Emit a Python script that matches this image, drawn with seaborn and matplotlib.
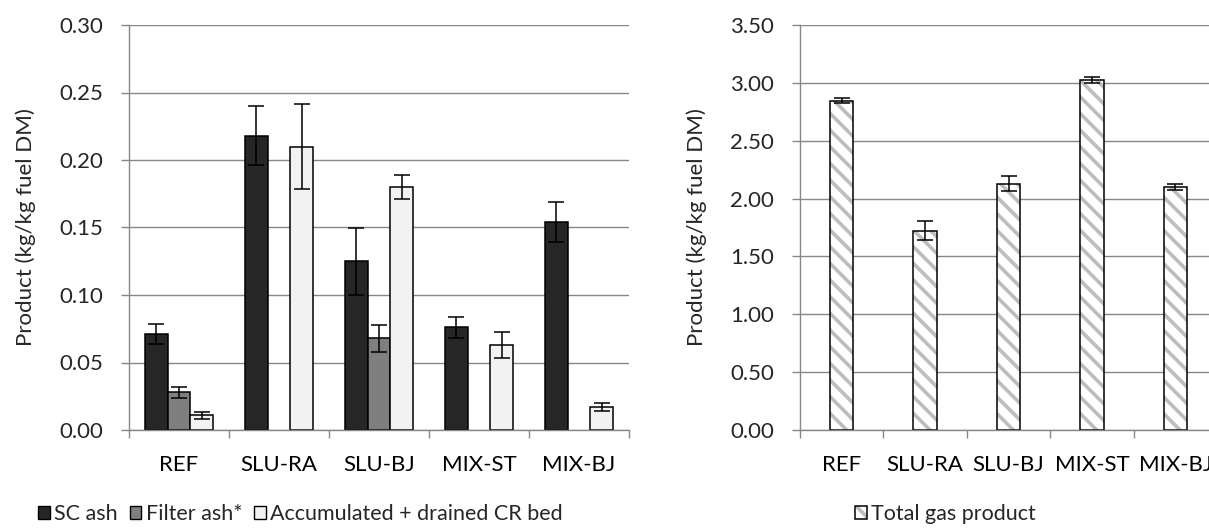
import numpy as np
import pandas as pd
import matplotlib
matplotlib.use("Agg")
import matplotlib.pyplot as plt
from matplotlib.colors import to_rgba
from matplotlib.ticker import FixedLocator, FormatStrFormatter
import seaborn as sns

# ---------------- data ----------------
categories = ["REF", "SLU-RA", "SLU-BJ", "MIX-ST", "MIX-BJ"]
series = ["SC ash", "Filter ash*", "Accumulated + drained CR bed"]
sc_ash = [0.071, 0.218, 0.125, 0.076, 0.154]
sc_ash_err = [0.0075, 0.022, 0.025, 0.0075, 0.015]
filter_ash = [0.028, np.nan, 0.068, np.nan, np.nan]
filter_ash_err = [0.004, np.nan, 0.0099, np.nan, np.nan]
accum_bed = [0.011, 0.210, 0.180, 0.063, 0.017]
accum_bed_err = [0.0025, 0.0316, 0.009, 0.0097, 0.003]
gas_label = "Total gas product"
gas_product = [2.846, 1.722, 2.129, 3.022, 2.103]
gas_product_err = [0.02, 0.08, 0.065, 0.025, 0.025]
ylabel = "Product (kg/kg fuel DM)"

colors = ["#262626", "#7f7f7f", "#f2f2f2"]
HATCH_COLOR = "#bdbdbd"

sns.set_theme(style="white")
plt.rcParams["font.family"] = ["Lato", "DejaVu Sans"]
plt.rcParams["hatch.linewidth"] = 2.6

FS = 16
GRID = "#878787"

fig = plt.figure(figsize=(12.09, 5.30), dpi=100)
W, H = 1209, 530
axL = fig.add_axes([129 / W, (H - 430) / H, 500 / W, 405 / H])
axR = fig.add_axes([800 / W, (H - 430) / H, 417 / W, 405 / H])

# long-form data for left chart
rows = []
for s, vals, errs in zip(series, [sc_ash, filter_ash, accum_bed],
                         [sc_ash_err, filter_ash_err, accum_bed_err]):
    for c, v, e in zip(categories, vals, errs):
        rows.append({"cat": c, "series": s, "value": v, "err": e})
df = pd.DataFrame(rows).dropna()

sns.barplot(data=df, x="cat", y="value", hue="series", order=categories,
            hue_order=series, palette=colors, width=0.68, ax=axL,
            edgecolor="black", linewidth=1.1, errorbar=None, saturation=1)

for cont, s in zip(axL.containers, series):
    sub = df[df["series"] == s]
    present = [c for c in categories if c in set(sub["cat"])]
    sub = sub.set_index("cat").reindex(present)
    xs = [p.get_x() + p.get_width() / 2 for p in cont.patches]
    hs = [p.get_height() for p in cont.patches]
    axL.errorbar(xs, hs, yerr=sub["err"].values, fmt="none", ecolor="black",
                 elinewidth=1.1, capsize=5.5, capthick=1.1, zorder=5)

# right chart
dfg = pd.DataFrame({"cat": categories, "value": gas_product, "err": gas_product_err})
sns.barplot(data=dfg, x="cat", y="value", order=categories, color="white",
            width=0.28, ax=axR, edgecolor="black", linewidth=1.1,
            errorbar=None, saturation=1)
for p in axR.patches:
    p.set_hatch("\\\\")
    if hasattr(p, "set_hatchcolor"):
        p.set_hatchcolor(HATCH_COLOR)
    else:
        p._hatch_color = to_rgba(HATCH_COLOR)
xs = [p.get_x() + p.get_width() / 2 for p in axR.patches]
hs = [p.get_height() for p in axR.patches]
axR.errorbar(xs, hs, yerr=dfg["err"].values, fmt="none", ecolor="black",
             elinewidth=1.1, capsize=5.5, capthick=1.1, zorder=5)

def style(ax, ymax, step):
    ax.set_xlim(-0.5, 4.5)
    ax.set_ylim(0, ymax)
    ax.set_yticks(np.arange(0, ymax + step / 2, step))
    ax.yaxis.set_major_formatter(FormatStrFormatter("%.2f"))
    ax.yaxis.grid(True, color=GRID, linewidth=1.0)
    ax.set_axisbelow(True)
    for sp in ["top", "right"]:
        ax.spines[sp].set_visible(False)
    for sp in ["left", "bottom"]:
        ax.spines[sp].set_color(GRID)
        ax.spines[sp].set_linewidth(1.0)
    ax.xaxis.set_minor_locator(FixedLocator(np.arange(-0.5, 5, 1)))
    ax.tick_params(axis="x", which="major", length=0, pad=18, labelsize=FS,
                   colors="black")
    ax.tick_params(axis="x", which="minor", length=6, width=1.0, color=GRID,
                   bottom=True, direction="out")
    ax.tick_params(axis="y", which="major", length=6, width=1.0, color=GRID,
                   left=True, direction="out", labelsize=FS, pad=12.5)
    ax.set_xlabel("")
    ax.set_ylabel(ylabel, fontsize=FS, labelpad=17)

style(axL, 0.30, 0.05)
style(axR, 3.50, 0.50)

# legends
handles, labels = axL.get_legend_handles_labels()
if axL.get_legend() is not None:
    axL.get_legend().remove()
for h in handles:
    h.set_edgecolor("black")
    h.set_linewidth(1.0)
leg_kw = dict(frameon=False, fontsize=15.5, handlelength=0.55, handleheight=0.55,
              handletextpad=0.2, borderpad=0, borderaxespad=0)
fig.legend(handles, labels, loc="center left", bbox_to_anchor=(38 / W, 1 - 514 / H),
           ncol=3, columnspacing=0.55, **leg_kw)
fig.legend([axR.patches[0]], [gas_label], loc="center left",
           bbox_to_anchor=(855 / W, 1 - 514 / H), **leg_kw)

fig.savefig("out.png", dpi=100)
